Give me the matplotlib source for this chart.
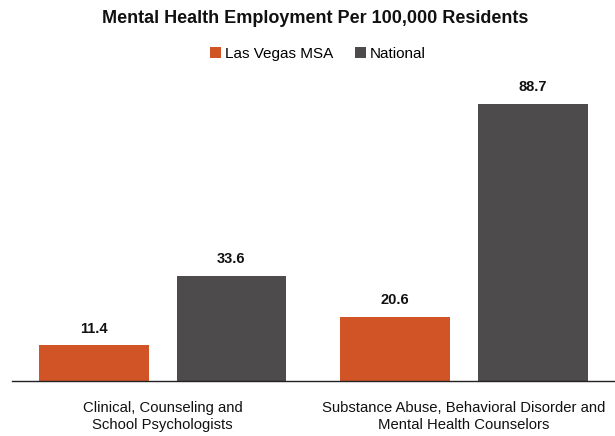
import matplotlib
matplotlib.use("Agg")
import matplotlib.pyplot as plt
import numpy as np

categories = ["Clinical, Counseling and\nSchool Psychologists",
              "Substance Abuse, Behavioral Disorder and\nMental Health Counselors"]
series = ["Las Vegas MSA", "National"]
las_vegas = [11.4, 20.6]
national = [33.6, 88.7]

ORANGE, GRAY = "#D15427", "#4D4B4C"

plt.rcParams["font.family"] = ["Liberation Sans", "DejaVu Sans"]

fig = plt.figure(figsize=(6.15, 4.36), dpi=100)
ax = fig.add_axes([0.0195, 0.126, 0.98, 0.69])

x = np.arange(len(categories))
w, off = 0.364, 0.228
b1 = ax.bar(x - off, las_vegas, w, color=ORANGE, label=series[0])
b2 = ax.bar(x + off, national, w, color=GRAY, label=series[1])
for bars in (b1, b2):
    for rect in bars:
        ax.annotate(f"{rect.get_height():.1f}",
                    (rect.get_x() + rect.get_width() / 2, rect.get_height()),
                    xytext=(0, 7), textcoords="offset points",
                    ha="center", va="bottom", fontsize=10.5, fontweight="bold",
                    color="#111111")

ax.set_xlim(-0.5, 1.5)
ax.set_ylim(0, 96.2)
ax.set_xticks(x, categories, fontsize=10.75, color="#111111", linespacing=1.35)
ax.tick_params(axis="x", length=0, pad=14)
ax.set_yticks([])
for s in ("top", "right", "left"):
    ax.spines[s].set_visible(False)
ax.spines["bottom"].set_color("#222222")
ax.spines["bottom"].set_linewidth(1.0)

fig.text(0.512, 0.957, "Mental Health Employment Per 100,000 Residents",
         ha="center", va="center", fontsize=13, fontweight="bold", color="#111111")
fig.legend(loc="center", bbox_to_anchor=(0.517, 0.876), ncol=2, frameon=False,
           fontsize=11, handlelength=0.7, handleheight=0.7, handletextpad=0.3,
           columnspacing=1.4)

fig.savefig("out.png", dpi=100)
